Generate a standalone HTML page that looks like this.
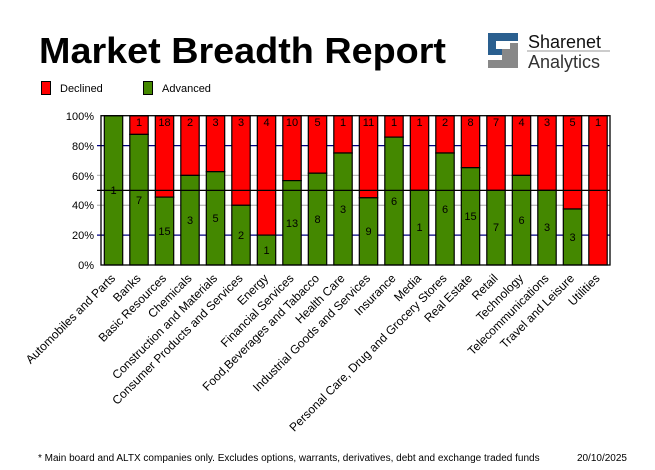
<!DOCTYPE html>
<html><head><meta charset="utf-8"><style>
html,body{margin:0;padding:0;background:#fff;}
svg{display:block;font-family:"Liberation Sans",sans-serif;}
</style></head><body>
<svg width="655" height="470" viewBox="0 0 655 470" xmlns="http://www.w3.org/2000/svg">
<rect width="655" height="470" fill="#fff"/>
<text x="39" y="63" font-size="36" font-weight="bold" textLength="407" lengthAdjust="spacingAndGlyphs" fill="#000">Market Breadth Report</text>
<rect x="488" y="33" width="30" height="8" fill="#2a5f8f"/>
<rect x="488" y="33" width="8" height="22" fill="#2a5f8f"/>
<rect x="488" y="49" width="22" height="6" fill="#2a5f8f"/>
<rect x="502" y="43" width="16" height="25" fill="#888"/>
<rect x="502" y="43" width="8" height="6" fill="#fff"/>
<rect x="488" y="60" width="30" height="8" fill="#888"/>
<text x="528" y="48" font-size="18" fill="#111">Sharenet</text>
<line x1="527" y1="51" x2="610" y2="51" stroke="#999" stroke-width="1"/>
<text x="528" y="68" font-size="18" fill="#333">Analytics</text>
<rect x="41.5" y="81.5" width="9" height="13" fill="#ff0000" stroke="#000"/>
<text x="60" y="92" font-size="11">Declined</text>
<rect x="143.5" y="81.5" width="9" height="13" fill="#448800" stroke="#000"/>
<text x="162" y="92" font-size="11">Advanced</text>
<g stroke-width="1.3">
<line x1="97" y1="235.1" x2="610" y2="235.1" stroke="#000080"/>
<line x1="97" y1="205.3" x2="610" y2="205.3" stroke="#bbb"/>
<line x1="97" y1="175.4" x2="610" y2="175.4" stroke="#bbb"/>
<line x1="97" y1="145.6" x2="610" y2="145.6" stroke="#000080"/>
</g>
<g font-size="11" text-anchor="end">
<text x="94" y="269">0%</text><text x="94" y="239">20%</text><text x="94" y="209">40%</text><text x="94" y="180">60%</text><text x="94" y="150">80%</text><text x="94" y="120">100%</text>
</g>
<g stroke="#000" stroke-width="1.2">
<rect x="104.3" y="115.7" width="18.4" height="149.3" fill="#448800"/>
<rect x="129.8" y="115.7" width="18.4" height="18.7" fill="#f00"/><rect x="129.8" y="134.4" width="18.4" height="130.6" fill="#448800"/>
<rect x="155.3" y="115.7" width="18.4" height="81.4" fill="#f00"/><rect x="155.3" y="197.1" width="18.4" height="67.9" fill="#448800"/>
<rect x="180.8" y="115.7" width="18.4" height="59.7" fill="#f00"/><rect x="180.8" y="175.4" width="18.4" height="89.6" fill="#448800"/>
<rect x="206.3" y="115.7" width="18.4" height="56" fill="#f00"/><rect x="206.3" y="171.7" width="18.4" height="93.3" fill="#448800"/>
<rect x="231.8" y="115.7" width="18.4" height="89.6" fill="#f00"/><rect x="231.8" y="205.3" width="18.4" height="59.7" fill="#448800"/>
<rect x="257.3" y="115.7" width="18.4" height="119.4" fill="#f00"/><rect x="257.3" y="235.1" width="18.4" height="29.9" fill="#448800"/>
<rect x="282.8" y="115.7" width="18.4" height="64.9" fill="#f00"/><rect x="282.8" y="180.6" width="18.4" height="84.4" fill="#448800"/>
<rect x="308.3" y="115.7" width="18.4" height="57.5" fill="#f00"/><rect x="308.3" y="173.2" width="18.4" height="91.8" fill="#448800"/>
<rect x="333.8" y="115.7" width="18.4" height="37.3" fill="#f00"/><rect x="333.8" y="153" width="18.4" height="112" fill="#448800"/>
<rect x="359.3" y="115.7" width="18.4" height="82.1" fill="#f00"/><rect x="359.3" y="197.8" width="18.4" height="67.2" fill="#448800"/>
<rect x="384.8" y="115.7" width="18.4" height="21.4" fill="#f00"/><rect x="384.8" y="137.1" width="18.4" height="127.9" fill="#448800"/>
<rect x="410.3" y="115.7" width="18.4" height="74.7" fill="#f00"/><rect x="410.3" y="190.4" width="18.4" height="74.6" fill="#448800"/>
<rect x="435.8" y="115.7" width="18.4" height="37.3" fill="#f00"/><rect x="435.8" y="153" width="18.4" height="112" fill="#448800"/>
<rect x="461.3" y="115.7" width="18.4" height="52" fill="#f00"/><rect x="461.3" y="167.7" width="18.4" height="97.3" fill="#448800"/>
<rect x="486.8" y="115.7" width="18.4" height="74.7" fill="#f00"/><rect x="486.8" y="190.4" width="18.4" height="74.6" fill="#448800"/>
<rect x="512.3" y="115.7" width="18.4" height="59.7" fill="#f00"/><rect x="512.3" y="175.4" width="18.4" height="89.6" fill="#448800"/>
<rect x="537.8" y="115.7" width="18.4" height="74.7" fill="#f00"/><rect x="537.8" y="190.4" width="18.4" height="74.6" fill="#448800"/>
<rect x="563.3" y="115.7" width="18.4" height="93.3" fill="#f00"/><rect x="563.3" y="209" width="18.4" height="56" fill="#448800"/>
<rect x="588.8" y="115.7" width="18.4" height="149.3" fill="#f00"/>
</g>
<line x1="97" y1="190.4" x2="610" y2="190.4" stroke="#000" stroke-width="1.3"/>
<rect x="101" y="115.7" width="509" height="149.3" fill="none" stroke="#000" stroke-width="1.3"/>
<g font-size="11" text-anchor="middle">
<text x="139" y="126">1</text><text x="164.5" y="126">18</text><text x="190" y="126">2</text><text x="215.5" y="126">3</text><text x="241" y="126">3</text><text x="266.5" y="126">4</text><text x="292" y="126">10</text><text x="317.5" y="126">5</text><text x="343" y="126">1</text><text x="368.5" y="126">11</text><text x="394" y="126">1</text><text x="419.5" y="126">1</text><text x="445" y="126">2</text><text x="470.5" y="126">8</text><text x="496" y="126">7</text><text x="521.5" y="126">4</text><text x="547" y="126">3</text><text x="572.5" y="126">5</text><text x="598" y="126">1</text>
<text x="113.5" y="194">1</text><text x="139" y="204">7</text><text x="164.5" y="235">15</text><text x="190" y="224">3</text><text x="215.5" y="222">5</text><text x="241" y="239">2</text><text x="266.5" y="254">1</text><text x="292" y="227">13</text><text x="317.5" y="223">8</text><text x="343" y="213">3</text><text x="368.5" y="235">9</text><text x="394" y="205">6</text><text x="419.5" y="231">1</text><text x="445" y="213">6</text><text x="470.5" y="220">15</text><text x="496" y="231">7</text><text x="521.5" y="224">6</text><text x="547" y="231">3</text><text x="572.5" y="241">3</text>
</g>
<g font-size="12" text-anchor="end">
<text transform="translate(116,279) rotate(-45)">Automobiles and Parts</text>
<text transform="translate(141.5,279) rotate(-45)">Banks</text>
<text transform="translate(167,279) rotate(-45)">Basic Resources</text>
<text transform="translate(192.5,279) rotate(-45)">Chemicals</text>
<text transform="translate(218,279) rotate(-45)">Construction and Materials</text>
<text transform="translate(243.5,279) rotate(-45)">Consumer Products and Services</text>
<text transform="translate(269,279) rotate(-45)">Energy</text>
<text transform="translate(294.5,279) rotate(-45)">Financial Services</text>
<text transform="translate(320,279) rotate(-45)">Food,Beverages and Tabacco</text>
<text transform="translate(345.5,279) rotate(-45)">Health Care</text>
<text transform="translate(371,279) rotate(-45)">Industrial Goods and Services</text>
<text transform="translate(396.5,279) rotate(-45)">Insurance</text>
<text transform="translate(422,279) rotate(-45)">Media</text>
<text transform="translate(447.5,279) rotate(-45)">Personal Care, Drug and Grocery Stores</text>
<text transform="translate(473,279) rotate(-45)">Real Estate</text>
<text transform="translate(498.5,279) rotate(-45)">Retail</text>
<text transform="translate(524,279) rotate(-45)">Technology</text>
<text transform="translate(549.5,279) rotate(-45)">Telecommunications</text>
<text transform="translate(575,279) rotate(-45)">Travel and Leisure</text>
<text transform="translate(600.5,279) rotate(-45)">Utilities</text>
</g>
<text x="38" y="461" font-size="10">* Main board and ALTX companies only. Excludes options, warrants, derivatives, debt and exchange traded funds</text>
<text x="627" y="461" font-size="10" text-anchor="end">20/10/2025</text>
</svg>
</body></html>
